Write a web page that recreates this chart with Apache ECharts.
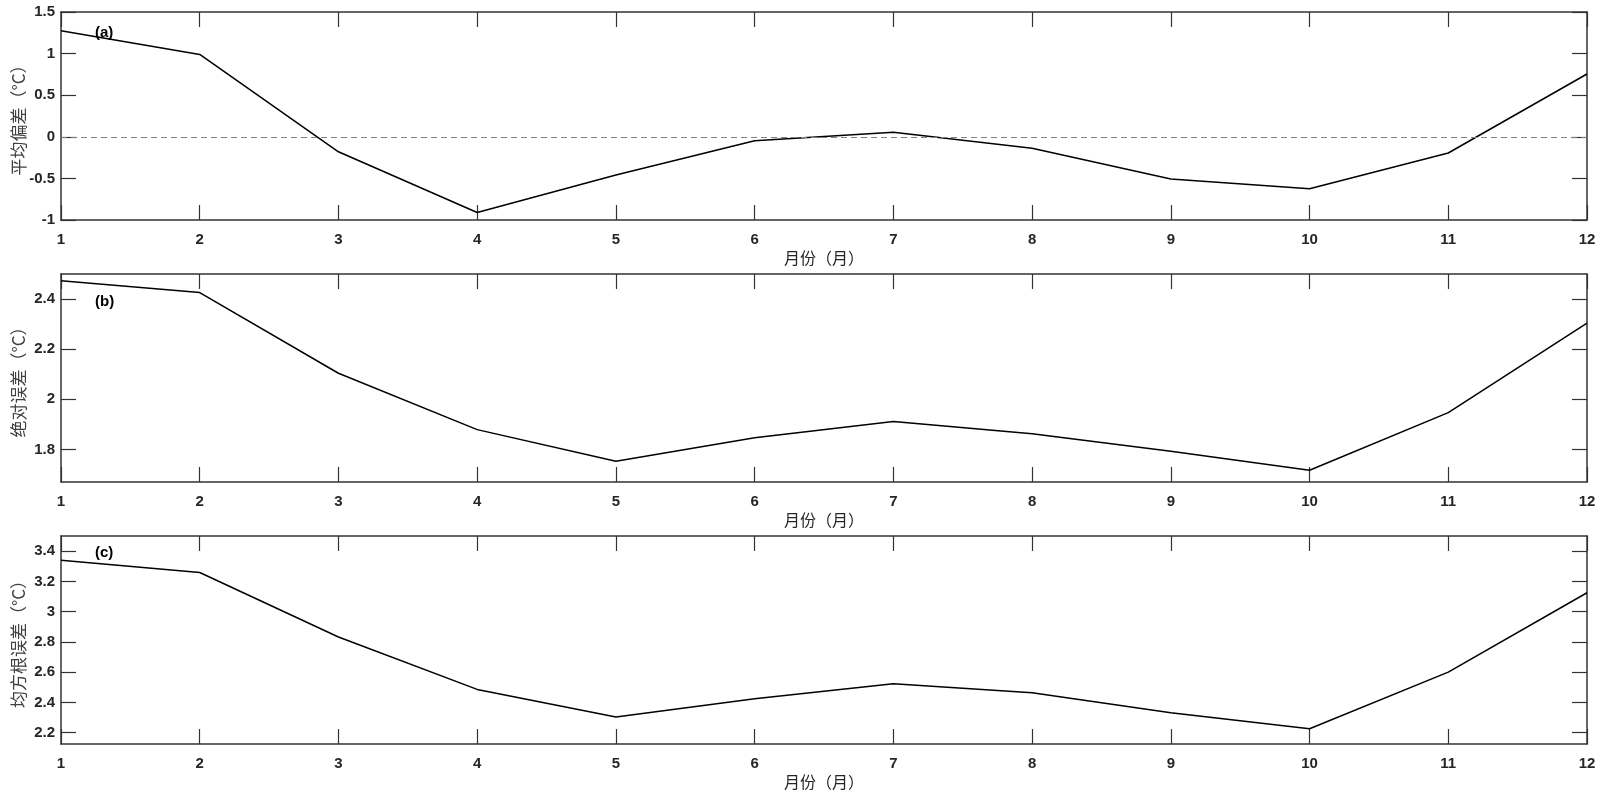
<!DOCTYPE html>
<html>
<head>
<meta charset="utf-8">
<script src="https://cdn.jsdelivr.net/npm/echarts@6/dist/echarts.min.js"></script>
<style>
  html, body { margin: 0; padding: 0; background: #fff; }
  #chart { width: 1600px; height: 793px; }
</style>
</head>
<body>
<div id="chart"></div>
<script>
// months on the x axis
const months = [1, 2, 3, 4, 5, 6, 7, 8, 9, 10, 11, 12]

// (a) mean bias, (b) absolute error, (c) RMSE  (°C)
const meanBias = [1.275, 0.99, -0.18, -0.91, -0.46, -0.047, 0.054, -0.138, -0.507, -0.625, -0.195, 0.755]
const absError = [2.473, 2.426, 2.104, 1.879, 1.753, 1.847, 1.911, 1.863, 1.793, 1.717, 1.947, 2.304]
const rmse = [3.34, 3.259, 2.832, 2.486, 2.303, 2.424, 2.524, 2.464, 2.332, 2.226, 2.60, 3.125]

// y tick labels
const biasTicks = [-1, -0.5, 0, 0.5, 1, 1.5]
const absTicks = [1.8, 2, 2.2, 2.4]
const rmseTicks = [2.2, 2.4, 2.6, 2.8, 3, 3.2, 3.4]

const panelNames = ['(a)', '(b)', '(c)']
const yNames = ['平均偏差（°C）', '绝对误差（°C）', '均方根误差（°C）']
const xName = '月份（月）'

const AXIS_COLOR = '#333'
const LABEL_FONT = 'Liberation Sans, Arial, sans-serif'
const CJK_FONT = 'Noto Sans CJK SC, sans-serif'

const panels = [
  { top: 12, height: 208, min: -1, max: 1.5, ticks: biasTicks, data: meanBias, labelTop: 25 },
  { top: 274, height: 208, min: 1.67, max: 2.5, ticks: absTicks, data: absError, labelTop: 294 },
  { top: 536, height: 208, min: 2.125, max: 3.5, ticks: rmseTicks, data: rmse, labelTop: 545 },
]

const grid = [], xAxis = [], yAxis = [], series = [], title = []

panels.forEach((p, i) => {
  grid.push({ left: 61, right: 13, top: p.top, height: p.height, containLabel: false, outerBoundsMode: 'none' })

  const tickStyle = { show: true, inside: true, length: 15, lineStyle: { color: AXIS_COLOR, width: 1.2 } }
  const lineStyle = { show: true, onZero: false, lineStyle: { color: AXIS_COLOR, width: 1.5 } }

  // bottom x axis (labels + title)
  xAxis.push({
    type: 'value', gridIndex: i, position: 'bottom', min: 1, max: 12, interval: 1,
    axisLine: lineStyle, axisTick: tickStyle, splitLine: { show: false },
    axisLabel: { color: '#262626', fontSize: 15, fontWeight: 'bold', fontFamily: LABEL_FONT, margin: 12 },
    name: xName, nameLocation: 'middle', nameGap: 30, nameMoveOverlap: false,
    nameTextStyle: { color: '#262626', fontSize: 16, fontFamily: CJK_FONT },
  })
  // top x axis (box + ticks only)
  xAxis.push({
    type: 'value', gridIndex: i, position: 'top', min: 1, max: 12, interval: 1,
    axisLine: lineStyle, axisTick: tickStyle, axisLabel: { show: false }, splitLine: { show: false },
  })
  // left y axis
  yAxis.push({
    type: 'value', gridIndex: i, position: 'left', min: p.min, max: p.max,
    axisLine: lineStyle,
    axisTick: Object.assign({}, tickStyle, { customValues: p.ticks }),
    axisLabel: { customValues: p.ticks, color: '#262626', fontSize: 15, fontWeight: 'bold', fontFamily: LABEL_FONT, margin: 6 },
    splitLine: { show: false },
    name: yNames[i], nameLocation: 'middle', nameRotate: 90, nameGap: 34, nameMoveOverlap: false,
    nameTextStyle: { color: '#404040', fontSize: 17, fontFamily: CJK_FONT },
  })
  // right y axis
  yAxis.push({
    type: 'value', gridIndex: i, position: 'right', min: p.min, max: p.max,
    axisLine: lineStyle,
    axisTick: Object.assign({}, tickStyle, { customValues: p.ticks }),
    axisLabel: { show: false, customValues: p.ticks }, splitLine: { show: false },
  })

  const s = {
    type: 'line', xAxisIndex: i * 2, yAxisIndex: i * 2,
    data: months.map((m, k) => [m, p.data[k]]),
    showSymbol: false, symbol: 'none', silent: true,
    lineStyle: { color: '#000', width: 1.5 },
    z: 3,
  }
  if (i === 0) {
    s.markLine = {
      silent: true, symbol: 'none', label: { show: false },
      lineStyle: { color: '#808080', type: [6, 4], width: 1 },
      data: [{ yAxis: 0 }],
    }
  }
  series.push(s)

  title.push({
    text: panelNames[i], left: 95, top: p.labelTop, padding: 0,
    textStyle: { fontSize: 15, fontWeight: 'bold', color: '#000', fontFamily: LABEL_FONT },
  })
})

const chart = echarts.init(document.getElementById('chart'))
chart.setOption({
  animation: false,
  backgroundColor: '#fff',
  title, grid, xAxis, yAxis, series,
})
</script>
</body>
</html>
